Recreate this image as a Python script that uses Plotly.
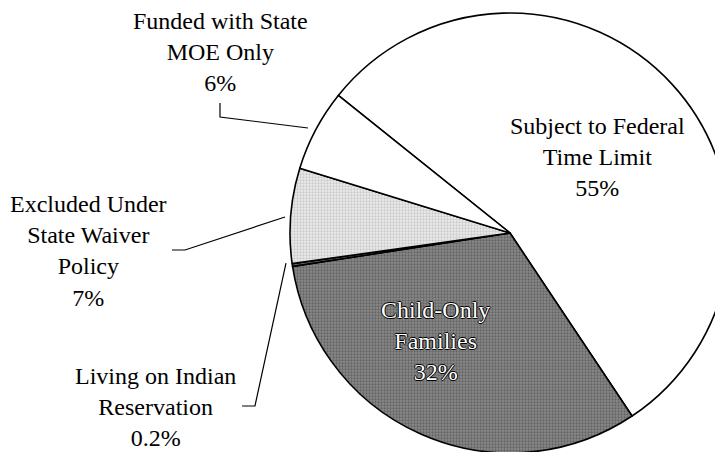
import plotly.graph_objects as go

labels = ["Subject to Federal Time Limit", "Child-Only Families", "Living on Indian Reservation",
          "Excluded Under State Waiver Policy", "Funded with State MOE Only"]
values = [55, 32, 0.2, 7, 6]
pct_text = ["55%", "32%", "0.2%", "7%", "6%"]
colors = ["#ffffff", "#8a8a8a", "#6e6e6e", "#ececec", "#ffffff"]

W, H = 723, 452
OFF = 8  # page body margin in the browser
cx, cy, r = 510 - OFF, 233 - OFF, 220

fig = go.Figure(go.Pie(
    labels=labels, values=values, sort=False, direction="clockwise",
    rotation=-51.3, textinfo="none", hoverinfo="label+percent",
    marker=dict(colors=colors, line=dict(color="black", width=1.6),
                pattern=dict(shape=["", ".", "", ".", ""], fillmode="overlay",
                             fgcolor=["#000", "#3c3c3c", "#000", "#a8a8a8", "#000"],
                             size=3, solidity=0.45)),
    domain=dict(x=[(cx - r) / W, (cx + r) / W], y=[(H - cy - r) / H, (H - cy + r) / H]),
    showlegend=False,
))

font = dict(family="Liberation Serif, Times New Roman, serif", size=24, color="black")


def px(x):
    return (x - OFF) / W


def py(y):
    return 1 - (y - OFF) / H


ann = [
    ("Subject to Federal<br>Time Limit<br>" + pct_text[0], 597, 157, font),
    ("Child-Only<br>Families<br>" + pct_text[1], 435, 341,
     dict(family=font["family"], size=24, color="#ffffff",
          shadow="1px 0 0 #000, -1px 0 0 #000, 0 1px 0 #000, 0 -1px 0 #000")),
    ("Living on Indian<br>Reservation<br>" + pct_text[2], 155, 407, font),
    ("Excluded Under<br>State Waiver<br>Policy<br>" + pct_text[3], 88, 251, font),
    ("Funded with State<br>MOE Only<br>" + pct_text[4], 220, 52, font),
]
for t, x, y, f in ann:
    fig.add_annotation(text=t, x=px(x), y=py(y), xref="paper", yref="paper",
                       showarrow=False, font=f, xanchor="center", yanchor="middle", align="center")

# leader lines
leaders = [
    [(220, 103), (220, 117), (308, 128)],
    [(172, 250), (185, 250), (285, 217)],
    [(242, 406), (255, 406), (286, 263)],
]
for pts in leaders:
    path = "M " + " L ".join(f"{px(x):.4f},{py(y):.4f}" for x, y in pts)
    fig.add_shape(type="path", path=path, xref="paper", yref="paper",
                  line=dict(color="black", width=1.2))

fig.update_layout(width=W, height=H, margin=dict(l=0, r=0, t=0, b=0),
                  paper_bgcolor="white", plot_bgcolor="white")
fig.write_html("out.html")
